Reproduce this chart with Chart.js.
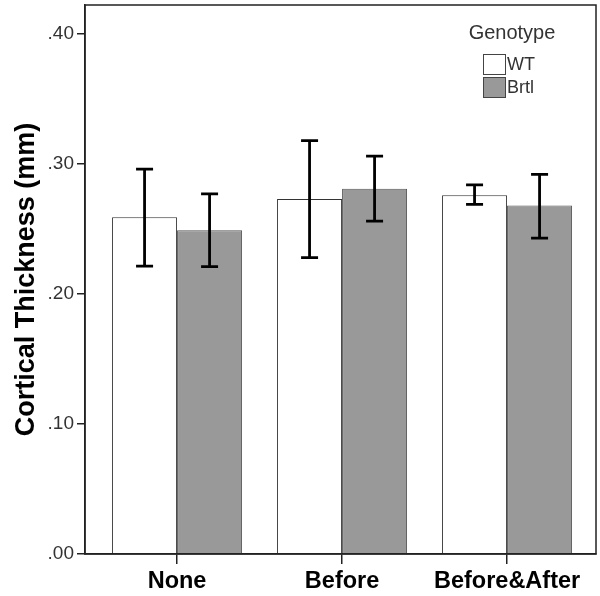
<!DOCTYPE html>
<html>
<head>
<meta charset="utf-8">
<script src="https://cdn.jsdelivr.net/npm/chart.js@4/dist/chart.umd.min.js"></script>
<style>
  html, body { margin: 0; padding: 0; background: #fff; }
  #wrap { width: 600px; height: 596px; }
</style>
</head>
<body>
<div id="wrap"><canvas id="thicknessChart"></canvas></div>
<script>
// categories and group means / error bar ends (mm)
const categories = ['None', 'Before', 'Before&After'];
const wtMean = [0.259, 0.273, 0.276];
const wtLow = [0.2215, 0.228, 0.269];
const wtHigh = [0.296, 0.318, 0.284];
const brtlMean = [0.249, 0.281, 0.268];
const brtlLow = [0.221, 0.256, 0.243];
const brtlHigh = [0.277, 0.306, 0.292];
const yTicks = [0, 0.1, 0.2, 0.3, 0.4];

const FONT = 'Arial, "Liberation Sans", sans-serif';
const toPoints = arr => arr.map((v, i) => ({ x: i, y: v }));

// error bars, drawn through the scales
const errorBars = {
  id: 'errorBars',
  afterDatasetsDraw(chart) {
    const ctx = chart.ctx;
    const y = chart.scales.y;
    const ranges = [[wtLow, wtHigh], [brtlLow, brtlHigh]];
    ctx.save();
    ctx.strokeStyle = '#000';
    ctx.lineWidth = 2.8;
    ranges.forEach((r, di) => {
      chart.getDatasetMeta(di).data.forEach((bar, i) => {
        const x = bar.x;
        const top = y.getPixelForValue(r[1][i]);
        const bot = y.getPixelForValue(r[0][i]);
        ctx.beginPath();
        ctx.moveTo(x, top); ctx.lineTo(x, bot);
        ctx.moveTo(x - 8.5, top); ctx.lineTo(x + 8.5, top);
        ctx.moveTo(x - 8.5, bot); ctx.lineTo(x + 8.5, bot);
        ctx.stroke();
      });
    });
    ctx.restore();
  }
};

// frame around the plot and the legend box inside it
const frameAndLegend = {
  id: 'frameAndLegend',
  afterDraw(chart) {
    const ctx = chart.ctx;
    const a = chart.chartArea;
    ctx.save();
    ctx.strokeStyle = '#222';
    ctx.lineWidth = 1.5;
    ctx.strokeRect(a.left, a.top, a.right - a.left, a.bottom - a.top);

    ctx.fillStyle = '#333';
    ctx.font = '20px ' + FONT;
    ctx.textAlign = 'center';
    ctx.textBaseline = 'middle';
    ctx.fillText('Genotype', 512, 33);

    const items = [['WT', '#ffffff'], ['Brtl', '#999999']];
    ctx.textAlign = 'left';
    ctx.font = '18px ' + FONT;
    items.forEach((it, k) => {
      const by = 54 + k * 23;
      ctx.fillStyle = it[1];
      ctx.fillRect(483, by, 23, 21);
      ctx.strokeStyle = '#444';
      ctx.lineWidth = 1;
      ctx.strokeRect(483.5, by + 0.5, 22, 20);
      ctx.fillStyle = '#333';
      ctx.fillText(it[0], 507, by + 11);
    });
    ctx.restore();
  }
};

const ctx = document.getElementById('thicknessChart').getContext('2d');
new Chart(ctx, {
  type: 'bar',
  data: {
    datasets: [{
      label: 'WT',
      data: toPoints(wtMean),
      backgroundColor: '#ffffff',
      borderColor: '#333',
      borderWidth: 1,
      barPercentage: 1,
      categoryPercentage: 0.788
    }, {
      label: 'Brtl',
      data: toPoints(brtlMean),
      backgroundColor: '#999999',
      borderColor: '#555',
      borderWidth: 1,
      barPercentage: 1,
      categoryPercentage: 0.788
    }]
  },
  options: {
    responsive: true,
    maintainAspectRatio: false,
    animation: false,
    layout: { padding: { top: 5, right: 4, left: 0, bottom: 0 } },
    plugins: {
      legend: { display: false },
      tooltip: { enabled: false }
    },
    scales: {
      x: {
        type: 'linear',
        min: -0.558,
        max: 2.539,
        offset: false,
        afterBuildTicks: s => { s.ticks = categories.map((c, i) => ({ value: i })); },
        afterFit: s => { s.height = 42; s.paddingLeft = 0; s.paddingRight = 0; },
        grid: { offset: false, drawOnChartArea: false, tickLength: 10, color: '#222', lineWidth: 1.5 },
        border: { color: '#222', width: 1.5 },
        ticks: {
          color: '#000',
          padding: 3,
          maxRotation: 0,
          font: { family: FONT, size: 23.5, weight: 'bold' },
          callback: v => categories[v]
        }
      },
      y: {
        min: 0,
        max: 0.4223,
        afterBuildTicks: s => { s.ticks = yTicks.map(v => ({ value: v })); },
        afterFit: s => { s.width = 85; s.paddingTop = 0; s.paddingBottom = 0; },
        grid: { drawOnChartArea: false, tickLength: 8, color: '#222', lineWidth: 1.5 },
        border: { color: '#222', width: 1.5 },
        ticks: {
          color: '#333',
          padding: 3,
          font: { family: FONT, size: 19 },
          callback: v => v.toFixed(2).replace(/^0/, '')
        },
        title: {
          display: true,
          text: 'Cortical Thickness (mm)',
          color: '#000',
          padding: { top: 10, bottom: 4 },
          font: { family: FONT, size: 27, weight: 'bold' }
        }
      }
    }
  },
  plugins: [errorBars, frameAndLegend]
});
</script>
</body>
</html>
